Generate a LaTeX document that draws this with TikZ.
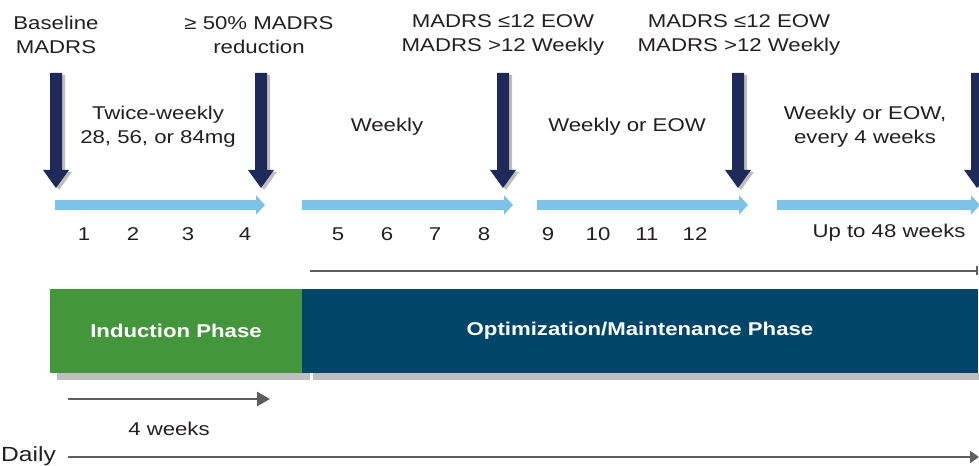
\documentclass[tikz,border=0pt]{standalone}
\usepackage{fontspec}
\setmainfont{Liberation Sans}[FakeStretch=1.2]
\usetikzlibrary{arrows.meta}
\definecolor{navy}{HTML}{1F2A5B}
\definecolor{lblue}{HTML}{7CC3E9}
\definecolor{pgreen}{HTML}{44963C}
\definecolor{pblue}{HTML}{00466A}
\definecolor{lgray}{HTML}{5E5E5E}
\definecolor{sgray}{HTML}{BEBEC1}
\definecolor{txtc}{HTML}{231F20}
\tikzset{
  txt/.style={inner sep=0pt, align=center, text=txtc, font=\fontsize{18.5bp}{24bp}\selectfont},
  phasetxt/.style={inner sep=0pt, text=white, font=\bfseries\fontsize{18.5bp}{24bp}\selectfont},
  navyarrow/.pic={
    \foreach \c/\dx/\dy in {sgray/3/2, navy/0/0}{
      \fill[\c, shift={(\dx,\dy)}] (-6,0) -- (6,0) -- (6,97) -- (13,97) -- (0,115) -- (-13,97) -- (-6,97) -- cycle;}
  },
  bluearrow/.style={draw=lblue, line width=10bp, -{Triangle[length=9bp,width=19bp]}},
  grayline/.style={draw=lgray, line width=2.5bp},
}
\begin{document}
\begin{tikzpicture}[x=1bp,y=-1bp]
\useasboundingbox (0,0) rectangle (979,466);
% top labels
\node[txt] (lab1) at (56,35) {Baseline\\MADRS};
\node[txt] (lab2) at (259,35) {≥ 50\% MADRS\\reduction};
\node[txt] (lab3) at (503,35) {MADRS ≤12 EOW\\MADRS >12 Weekly};
\node[txt] (lab4) at (739,35) {MADRS ≤12 EOW\\MADRS >12 Weekly};
% navy arrows
\foreach \x in {56,261,503,738,977}{ \pic at (\x,73) {navyarrow}; }
% dosing labels
\node[txt] (dose1) at (158,127) {Twice-weekly\\28, 56, or 84mg};
\node[txt] (dose2) at (387,127) {Weekly};
\node[txt] (dose3) at (627,127) {Weekly or EOW};
\node[txt] (dose4) at (865,127) {Weekly or EOW,\\every 4 weeks};
% light blue arrows
\coordinate (b1s) at (55,205); \coordinate (b1e) at (265,205);
\coordinate (b2s) at (302,205); \coordinate (b2e) at (513,205);
\coordinate (b3s) at (537,205); \coordinate (b3e) at (748,205);
\coordinate (b4s) at (777,205); \coordinate (b4e) at (980,205);
\draw[bluearrow] (b1s) -- (b1e);
\draw[bluearrow] (b2s) -- (b2e);
\draw[bluearrow] (b3s) -- (b3e);
\draw[bluearrow] (b4s) -- (b4e);
% week numbers
\foreach \n/\x in {1/84,2/133,3/188,4/245,5/338,6/387,7/435,8/484,9/548,10/598,11/647,12/695}{
  \node[txt] (w\n) at (\x,234) {\n};
}
\node[txt] (upto) at (889,233) {Up to 48 weeks};
% top gray line
\coordinate (t1) at (310,271); \coordinate (t2) at (978,271);
\draw[grayline, -{Bar[width=9bp,line width=2bp]}] (t1) -- (t2);
% shadows
\fill[sgray] (57,373) rectangle (310,380);
\fill[sgray] (313,373) rectangle (979,380);
% phase boxes
\node[fill=pgreen, minimum width=252bp, minimum height=84bp, inner sep=0pt, anchor=north west] (ind) at (50,289) {};
\node[fill=pblue, minimum width=676bp, minimum height=84bp, inner sep=0pt, anchor=north west] (opt) at (302,289) {};
\node[phasetxt] (indt) at (176,331) {Induction Phase};
\node[phasetxt] (optt) at (640,331) {Optimization/Maintenance Phase};
% 4 weeks arrow
\coordinate (f1) at (68,399); \coordinate (f2) at (270,399);
\draw[grayline, -{Triangle[length=13bp,width=14bp]}] (f1) -- (f2);
\node[txt] (fourw) at (169,429) {4 weeks};
% daily
\node[txt, anchor=west, font=\fontsize{20.5bp}{24bp}\selectfont] (daily) at (1,456) {Daily};
\coordinate (d1) at (68,457); \coordinate (d2) at (979,457);
\draw[grayline, -{Triangle[length=9bp,width=12bp]}] (d1) -- (d2);
\end{tikzpicture}
\end{document}
